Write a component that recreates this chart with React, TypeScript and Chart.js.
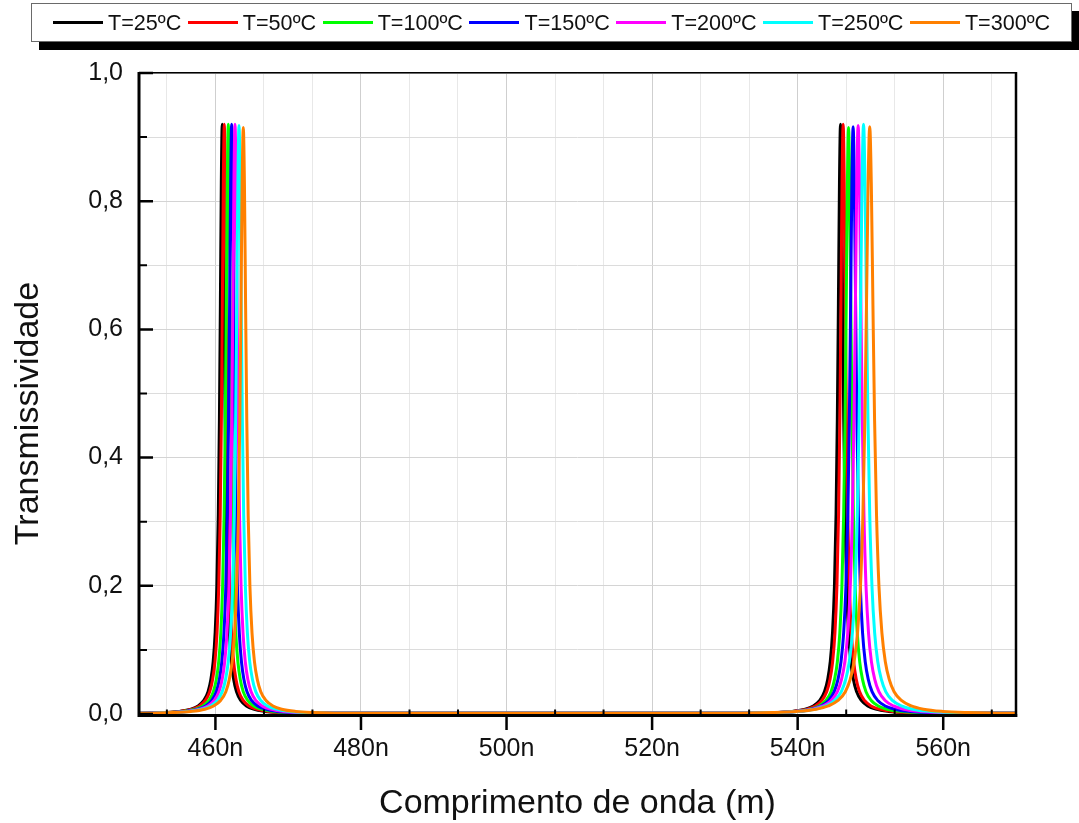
import React, { useEffect, useRef } from "react";
import { Chart, registerables } from "chart.js";

Chart.register(...registerables);

const FONT = 'Arial, "Liberation Sans", sans-serif';

// ---- data ----
const seriesLabels = ["T=25ºC", "T=50ºC", "T=100ºC", "T=150ºC", "T=200ºC", "T=250ºC", "T=300ºC"];
const seriesColors = ["#000000", "#ff0000", "#00ff00", "#0000ff", "#ff00ff", "#00ffff", "#ff8000"];

// first transmission peak (nm): centre, height, half width
const peak1Center = [460.94, 461.22, 461.77, 462.23, 462.69, 463.24, 463.83];
const peak1Height = [0.92, 0.92, 0.92, 0.92, 0.92, 0.918, 0.915];
const peak1Width = [0.39, 0.4, 0.41, 0.42, 0.44, 0.46, 0.48];

// second transmission peak (nm)
const peak2Center = [545.89, 546.25, 546.99, 547.62, 548.31, 549.05, 549.9];
const peak2Height = [0.92, 0.92, 0.915, 0.916, 0.918, 0.92, 0.916];
const peak2Width = [0.44, 0.45, 0.48, 0.52, 0.57, 0.61, 0.67];

// peak shape: offset in half-widths -> relative transmissivity
const profileU = [-28, -20, -15, -11, -8.5, -6.5, -5, -4, -3.2, -2.5, -1.9, -1.4, -1, -0.66, -0.33, 0, 0.33, 0.66, 1, 1.4, 1.9, 2.5, 3.2, 4, 5, 6.5, 8.5, 11, 15, 20, 28];
const profileT = [0.0013, 0.0025, 0.0044, 0.0082, 0.0137, 0.023, 0.038, 0.059, 0.089, 0.138, 0.217, 0.338, 0.5, 0.697, 0.902, 1, 0.902, 0.697, 0.5, 0.338, 0.217, 0.138, 0.089, 0.059, 0.038, 0.023, 0.0137, 0.0082, 0.0044, 0.0025, 0.0013];
const baselineT = 0.0012;

const xMin = 449.5;
const xMax = 570;
const xMajorTicks = [460, 480, 500, 520, 540, 560];
const xMinorTicks = [453.33, 466.67, 473.33, 486.67, 493.33, 506.67, 513.33, 526.67, 533.33, 546.67, 553.33, 566.67];
const yMajorTicks = [0, 0.2, 0.4, 0.6, 0.8, 1.0];
const yMinorTicks = [0.1, 0.3, 0.5, 0.7, 0.9];

const xTitle = "Comprimento de onda (m)";
const yTitle = "Transmissividade";

const isIn = (arr: number[], v: number) => arr.some((a) => Math.abs(a - v) < 1e-6);

function peakPoints(center: number, height: number, width: number) {
  return profileU.map((u, i) => ({ x: center + u * width, y: height * profileT[i] }));
}

const framePlugin = {
  id: "frame",
  afterDatasetsDraw(chart: any) {
    const { ctx, chartArea } = chart;
    const { left, right, top, bottom } = chartArea;
    const xs = chart.scales.x;
    const ys = chart.scales.y;
    ctx.save();
    ctx.strokeStyle = "#000";
    ctx.lineCap = "butt";
    // frame
    ctx.lineWidth = 1.5;
    ctx.beginPath();
    ctx.moveTo(left, top - 0.25);
    ctx.lineTo(right, top - 0.25);
    ctx.stroke();
    ctx.lineWidth = 2.5;
    ctx.beginPath();
    ctx.moveTo(right, top - 1);
    ctx.lineTo(right, bottom + 3);
    ctx.stroke();
    ctx.lineWidth = 3;
    ctx.beginPath();
    ctx.moveTo(left, top - 1);
    ctx.lineTo(left, bottom + 3);
    ctx.moveTo(left - 1.5, bottom + 1.5);
    ctx.lineTo(right + 1.2, bottom + 1.5);
    ctx.stroke();
    // x major ticks (outward)
    ctx.lineWidth = 2.5;
    ctx.beginPath();
    xMajorTicks.forEach((v) => {
      const p = xs.getPixelForValue(v);
      ctx.moveTo(p, bottom + 1.5);
      ctx.lineTo(p, bottom + 16);
    });
    ctx.stroke();
    // x minor ticks (inward)
    ctx.lineWidth = 2;
    ctx.beginPath();
    xMinorTicks.forEach((v) => {
      const p = xs.getPixelForValue(v);
      ctx.moveTo(p, bottom + 1.5);
      ctx.lineTo(p, bottom - 4.5);
    });
    ctx.stroke();
    // y ticks (inward)
    ctx.lineWidth = 2.5;
    ctx.beginPath();
    yMajorTicks.forEach((v) => {
      const p = ys.getPixelForValue(v);
      ctx.moveTo(left, p);
      ctx.lineTo(left + 14, p);
    });
    ctx.stroke();
    ctx.lineWidth = 2;
    ctx.beginPath();
    yMinorTicks.forEach((v) => {
      const p = ys.getPixelForValue(v);
      ctx.moveTo(left, p);
      ctx.lineTo(left + 8, p);
    });
    ctx.stroke();
    // axis titles
    ctx.fillStyle = "#111";
    ctx.font = `34px ${FONT}`;
    ctx.textAlign = "center";
    ctx.textBaseline = "alphabetic";
    ctx.fillText(xTitle, (left + right) / 2, bottom + 99);
    ctx.translate(38, (top + bottom) / 2 + 20);
    ctx.rotate(-Math.PI / 2);
    ctx.fillText(yTitle, 0, 0);
    ctx.restore();
  },
};

export default function App() {
  const ref = useRef<HTMLCanvasElement>(null);

  useEffect(() => {
    if (!ref.current) return;
    Chart.defaults.font.family = FONT;
    const datasets = seriesLabels.map((label, i) => ({
      label,
      data: [
        { x: xMin, y: baselineT },
        ...peakPoints(peak1Center[i], peak1Height[i], peak1Width[i]),
        ...peakPoints(peak2Center[i], peak2Height[i], peak2Width[i]),
        { x: xMax, y: baselineT },
      ],
      borderColor: seriesColors[i],
      backgroundColor: seriesColors[i],
      borderWidth: 3,
      pointRadius: 0,
      fill: false,
      cubicInterpolationMode: "monotone" as const,
      order: seriesLabels.length - 1 - i,
    }));

    const chart = new Chart(ref.current, {
      type: "line",
      data: { datasets },
      plugins: [framePlugin],
      options: {
        animation: false,
        responsive: false,
        events: [],
        layout: { padding: { top: 73, right: 63, left: 0, bottom: 0 } },
        plugins: { legend: { display: false }, tooltip: { enabled: false } },
        scales: {
          x: {
            type: "linear",
            min: xMin,
            max: xMax,
            border: { display: false },
            afterFit: (s: any) => {
              s.height = 109;
            },
            afterBuildTicks: (s: any) => {
              s.ticks = [...xMinorTicks, ...xMajorTicks].sort((a, b) => a - b).map((value) => ({ value }));
            },
            grid: {
              drawTicks: false,
              lineWidth: 1,
              color: (c: any) => (isIn(xMajorTicks, c.tick?.value) ? "#cfcfcf" : "#e8e8e8"),
            },
            ticks: {
              autoSkip: false,
              maxRotation: 0,
              padding: 20,
              color: "#111",
              font: { size: 25 },
              callback: (v: any) => (isIn(xMajorTicks, Number(v)) ? `${Math.round(Number(v))}n` : ""),
            },
          },
          y: {
            type: "linear",
            min: 0,
            max: 1,
            border: { display: false },
            afterFit: (s: any) => {
              s.width = 139;
            },
            afterBuildTicks: (s: any) => {
              s.ticks = [...yMajorTicks, ...yMinorTicks].sort((a, b) => a - b).map((value) => ({ value }));
            },
            grid: {
              drawTicks: false,
              lineWidth: 1,
              color: (c: any) => (isIn(yMajorTicks, c.tick?.value) ? "#d4d4d4" : "#dcdcdc"),
            },
            ticks: {
              autoSkip: false,
              padding: 16,
              color: "#111",
              font: { size: 25 },
              callback: (v: any) => (isIn(yMajorTicks, Number(v)) ? Number(v).toFixed(1).replace(".", ",") : ""),
            },
          },
        },
      },
    });
    return () => chart.destroy();
  }, []);

  return (
    <div style={{ position: "absolute", left: 0, top: 0, width: 1079, height: 823, background: "#fff", overflow: "hidden" }}>
      <canvas ref={ref} width={1079} height={823} style={{ position: "absolute", left: 0, top: 0, width: 1079, height: 823 }} />
      <div
        style={{
          position: "absolute",
          left: 31,
          top: 3,
          width: 1041,
          height: 39,
          boxSizing: "border-box",
          border: "1px solid #6a6a6a",
          boxShadow: "8px 8px 0 #000",
          background: "#fff",
          display: "flex",
          alignItems: "center",
          paddingLeft: 21,
          fontFamily: FONT,
          fontSize: 21.6,
          color: "#111",
          whiteSpace: "nowrap",
        }}
      >
        {seriesLabels.map((label, i) => (
          <span key={label} style={{ display: "flex", alignItems: "center", marginRight: 6.5 }}>
            <span style={{ display: "inline-block", width: 50, height: 3, background: seriesColors[i], marginRight: 5 }} />
            <span>{label}</span>
          </span>
        ))}
      </div>
    </div>
  );
}
